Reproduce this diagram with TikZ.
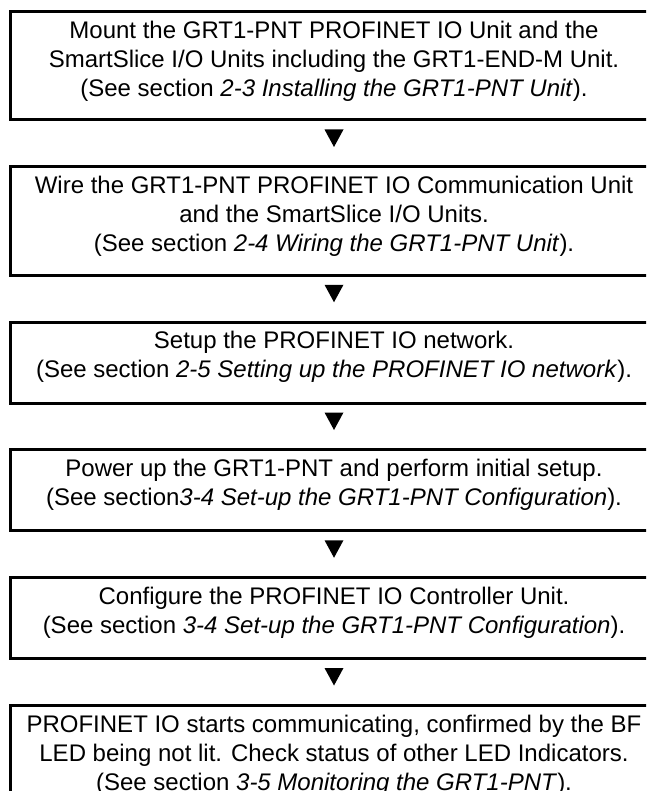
\documentclass[tikz,border=0pt]{standalone}
\usepackage{fontspec}
\setmainfont{Liberation Sans}
\usetikzlibrary{positioning}
\newcommand{\stepbody}[2]{\parbox[c][#1][t]{647pt}{\centering\vspace*{6.5pt}\strut #2}}
\tikzset{stepbox/.style={draw=black,line width=3pt,inner sep=0pt,outer sep=0pt,
    font=\fontsize{24}{29}\selectfont}}

\begin{document}
\begin{tikzpicture}[x=1pt,y=1pt,node distance=46.75pt]
        \useasboundingbox (0,0) rectangle (646,-791);
        \clip (0,0) rectangle (646,-791);
        \node[stepbox,anchor=north] (b1) at (334,-11.5) {\stepbody{108.5pt}{Mount the GRT1-PNT PROFINET IO Unit and the\\
            SmartSlice I/O Units including the GRT1-END-M Unit.\\
            (See section \textit{2-3 Installing the GRT1-PNT Unit}).}};
        \node[stepbox,below=of b1] (b2) {\stepbody{108.5pt}{Wire the GRT1-PNT PROFINET IO Communication Unit\\
            and the SmartSlice I/O Units.\\
            (See section \textit{2-4 Wiring the GRT1-PNT Unit}).}};
        \node[stepbox,below=of b2] (b3) {\stepbody{81pt}{Setup the PROFINET IO network.\\
            (See section \textit{2-5 Setting up the PROFINET IO network}).}};
        \node[stepbox,below=of b3] (b4) {\stepbody{81pt}{Power up the GRT1-PNT and perform initial setup.\\
            (See section\textit{3-4 Set-up the GRT1-PNT Configuration}).}};
        \node[stepbox,below=of b4] (b5) {\stepbody{81pt}{Configure the PROFINET IO Controller Unit.\\
            (See section \textit{3-4 Set-up the GRT1-PNT Configuration}).}};
        \node[stepbox,below=of b5] (b6) {\stepbody{108.5pt}{PROFINET IO starts communicating, confirmed by the BF\\
            LED being not lit. Check status of other LED Indicators.\\
            (See section \textit{3-5 Monitoring the GRT1-PNT}).}};
        % down arrows between the steps
        \foreach \a in {1,...,5}
          \fill ([yshift=-9.5pt]b\a.south) ++(-9.5,0) -- ++(19,0) -- ++(-9.5,-17.5) -- cycle;
\end{tikzpicture}
\end{document}
